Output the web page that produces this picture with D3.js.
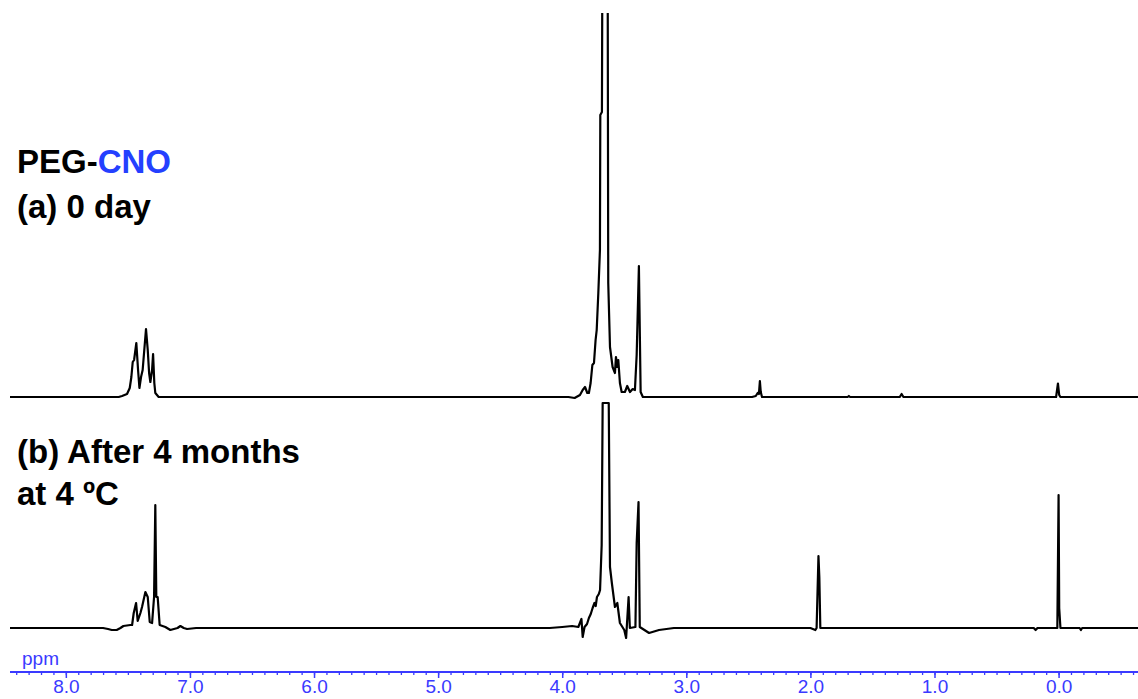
<!DOCTYPE html>
<html>
<head>
<meta charset="utf-8">
<script src="https://cdn.jsdelivr.net/npm/d3@7/dist/d3.min.js"></script>
<style>
  html, body { margin: 0; padding: 0; background: #fff; }
  svg { display: block; }
  .label { font-family: 'Liberation Sans', Arial, sans-serif; font-weight: bold; font-size: 33px; fill: #000; }
  .axis text { font-family: 'Liberation Sans', Arial, sans-serif; font-size: 19px; fill: #3a3aff; }
</style>
</head>
<body>
<div id="chart"></div>
<script>
// major ppm ticks with labels
const majorTicks = [8.0, 7.0, 6.0, 5.0, 4.0, 3.0, 2.0, 1.0, 0.0];

const spectrumA = [
  [8.45, 0], [7.574, 0], [7.547, 1], [7.507, 3], [7.485, 9], [7.472, 20],
  [7.461, 35], [7.450, 37], [7.432, 54], [7.418, 27], [7.407, 9], [7.394, 20],
  [7.381, 27], [7.354, 68], [7.340, 47], [7.329, 24], [7.319, 15], [7.305, 27],
  [7.297, 43], [7.287, 14], [7.279, 4], [7.252, 0],
  [3.95, 0], [3.90, -1], [3.857, 2], [3.835, 7], [3.816, 10], [3.798, 4],
  [3.785, 4], [3.771, 14], [3.757, 32], [3.744, 34], [3.731, 57], [3.722, 67],
  [3.709, 104], [3.696, 147], [3.693, 282], [3.680, 285], [3.676, 450],
  [3.634, 450], [3.629, 114], [3.615, 50], [3.594, 30], [3.575, 24], [3.567, 40],
  [3.556, 30], [3.548, 37], [3.535, 14], [3.521, 5], [3.495, 5], [3.476, 11],
  [3.454, 5], [3.432, 8], [3.414, 7], [3.400, 42], [3.382, 131], [3.368, 5],
  [3.35, 0],
  [2.47, 0], [2.44, 1], [2.425, 4], [2.415, 3], [2.407, 16], [2.40, 5], [2.39, 0],
  [1.70, 0], [1.69, 1], [1.68, 0], [1.28, 0], [1.265, 3], [1.25, 0],
  [0.02, 0], [0.005, 13.5], [-0.005, 2], [-0.015, 0], [-0.64, 0]
];

// (b) after 4 months at 4 C
const spectrumB = [
  [8.45, 0], [7.70, 0], [7.66, -1], [7.63, -2], [7.59, -2], [7.56, 0], [7.536, 2],
  [7.48, 3], [7.466, 3], [7.453, 15], [7.434, 25], [7.421, 7], [7.399, 15],
  [7.386, 21], [7.359, 36], [7.340, 31], [7.324, 6], [7.305, 5], [7.289, 31],
  [7.279, 123], [7.271, 31], [7.260, 31], [7.244, 3], [7.198, 1], [7.158, -2],
  [7.10, 0], [7.077, 2], [7.05, 0], [7.023, -1], [6.95, 0],
  [4.10, 0], [4.00, 1], [3.92, 2], [3.87, 1], [3.845, 9], [3.835, -9], [3.82, 1],
  [3.80, 4], [3.785, 10], [3.77, 14], [3.755, 20], [3.74, 25], [3.73, 22],
  [3.72, 31], [3.705, 34], [3.695, 38], [3.682, 83],
  [3.674, 225], [3.625, 225], [3.615, 61], [3.60, 45], [3.575, 21], [3.556, 25],
  [3.535, 5], [3.50, -2], [3.485, -10], [3.465, 31], [3.455, 0], [3.41, 1],
  [3.40, 85], [3.385, 126], [3.375, 1], [3.30, -5], [3.22, -2], [3.10, 0],
  [2.00, 0], [1.96, -2], [1.95, 0], [1.935, 72], [1.928, 51], [1.92, 0],
  [0.20, 0], [0.185, -2], [0.17, 0], [0.01, 0], [0.0, 133], [-0.005, 20],
  [-0.015, 0], [-0.17, 0], [-0.18, -2], [-0.19, 0], [-0.64, 0]
];

const width = 1138;
const height = 699;

const svg = d3.select('#chart')
  .append('svg')
  .attr('width', width)
  .attr('height', height);

// shared chemical shift scale, reversed like an nmr plot
const x = d3.scaleLinear()
  .domain([8.45, -0.64])
  .range([10, 1138]);

const yA = d3.scaleLinear().domain([0, 384]).range([397, 13]);
const yB = d3.scaleLinear().domain([0, 225]).range([628, 403]);

// top trace runs off the top of the picture
svg.append('clipPath')
  .attr('id', 'clipA')
  .append('rect')
  .attr('x', 0)
  .attr('y', 13)
  .attr('width', width)
  .attr('height', 390);

const drawTrace = (data, y, clip) => {
  const path = svg.append('path')
    .datum(data)
    .attr('fill', 'none')
    .attr('stroke', '#000')
    .attr('stroke-width', 2.2)
    .attr('stroke-linejoin', 'round')
    .attr('d', d3.line()
      .x(d => x(d[0]))
      .y(d => y(d[1]))
    );
  if (clip) {
    path.attr('clip-path', `url(#${clip})`);
  }
};

drawTrace(spectrumA, yA, 'clipA');
drawTrace(spectrumB, yB);

// ppm axis
const axisY = 672;
const minorTicks = d3.range(-6, 85).map(d => d / 10);

svg.append('g')
  .attr('transform', `translate(0, ${axisY})`)
  .call(d3.axisBottom(x).tickValues(minorTicks).tickSize(3).tickFormat(''))
  .call(g => g.select('.domain').remove())
  .selectAll('line')
  .attr('stroke', '#3a3aff')
  .attr('stroke-width', 1.3);

const axis = svg.append('g')
  .attr('class', 'axis')
  .attr('transform', `translate(0, ${axisY})`)
  .call(d3.axisBottom(x).tickValues(majorTicks).tickSize(6).tickPadding(2).tickFormat(d3.format('.1f')));

axis.select('.domain')
  .attr('stroke', '#3a3aff')
  .attr('stroke-width', 2)
  .attr('d', `M${x.range()[0]},0H${x.range()[1]}`);
axis.selectAll('line')
  .attr('stroke', '#3a3aff')
  .attr('stroke-width', 1.5);
axis.selectAll('text').attr('fill', '#3a3aff');

svg.append('text')
  .attr('x', 22)
  .attr('y', 665)
  .attr('font-family', "'Liberation Sans', Arial, sans-serif")
  .attr('font-size', 19)
  .attr('fill', '#3a3aff')
  .text('ppm');

// sample labels
const title = svg.append('text')
  .attr('class', 'label')
  .attr('x', 17)
  .attr('y', 173);
title.append('tspan').text('PEG-');
title.append('tspan').attr('fill', '#2440ff').text('CNO');

svg.append('text').attr('class', 'label').attr('x', 17).attr('y', 218).text('(a) 0 day');
svg.append('text').attr('class', 'label').attr('x', 17).attr('y', 463).text('(b) After 4 months');
svg.append('text').attr('class', 'label').attr('x', 17).attr('y', 505).text('at 4 ºC');
</script>
</body>
</html>
